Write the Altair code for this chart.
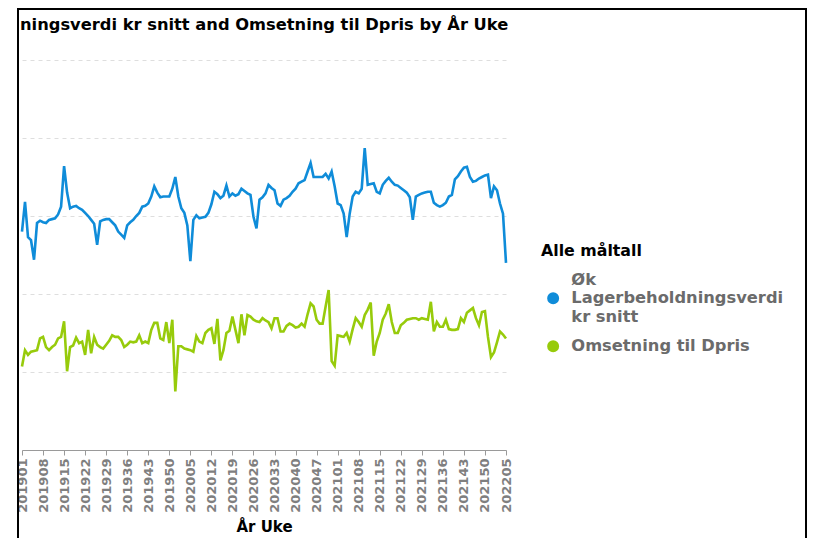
import altair as alt
import pandas as pd

# ---- data -------------------------------------------------------------
years = [2019, 2020, 2021, 2022]
weeks_per_year = [52, 53, 52, 5]
weeks = [f"{y}{w:02d}" for y, n in zip(years, weeks_per_year) for w in range(1, n + 1)]
tick_weeks = weeks[::7]

series_names = ["Øk Lagerbeholdningsverdi kr snitt", "Omsetning til Dpris"]
series_colors = ["#0F8CD9", "#97CB0B"]

lager = [
    28.0, 31.8, 27.3, 26.9, 24.4, 29.1, 29.4, 29.2, 29.1, 29.5,
    29.6, 29.7, 30.2, 31.2, 36.4, 33.0, 31.0, 31.2, 31.3, 31.0,
    30.8, 30.4, 30.0, 29.5, 29.0, 26.3, 29.3, 29.5, 29.6, 29.6,
    29.2, 28.8, 28.0, 27.6, 27.2, 28.8, 29.2, 29.5, 30.0, 30.4,
    31.2, 31.3, 31.6, 32.5, 33.8, 33.0, 32.4, 32.5, 32.5, 32.5,
    33.5, 35.0, 32.5, 31.0, 30.4, 28.8, 24.2, 29.5, 30.1, 29.7,
    29.8, 29.9, 30.4, 31.5, 33.1, 32.8, 32.3, 32.6, 33.9, 32.5,
    32.9, 32.6, 32.8, 33.5, 33.2, 32.9, 32.7, 29.9, 28.4, 32.1,
    32.4, 32.9, 34.0, 33.6, 33.3, 31.6, 31.3, 32.1, 32.3, 32.6,
    33.1, 33.5, 34.2, 34.4, 34.6, 35.7, 36.8, 35.0, 35.0, 35.0,
    35.0, 35.4, 34.8, 35.7, 33.8, 31.6, 31.4, 30.3, 27.3, 30.3,
    32.5, 33.1, 32.9, 33.5, 38.7, 34.0, 34.1, 34.2, 33.1, 32.9,
    34.0, 34.5, 34.9, 34.4, 34.0, 33.9, 33.6, 33.3, 33.0, 32.4,
    29.5, 32.5, 32.7, 32.9, 33.0, 33.1, 33.1, 31.7, 31.4, 31.2,
    31.4, 31.7, 32.5, 32.7, 34.7, 35.1, 35.7, 36.2, 36.3, 35.0,
    34.4, 34.5, 34.8, 35.0, 35.2, 35.3, 32.3, 33.8, 33.3, 31.6,
    30.3, 24.0,
]

omsetning = [
    10.7, 12.8, 12.2, 12.6, 12.7, 12.8, 14.3, 14.5, 13.2, 12.8,
    13.2, 13.5, 14.3, 14.5, 16.5, 10.1, 13.2, 13.4, 14.4, 13.7,
    13.9, 12.2, 15.4, 12.4, 14.5, 13.5, 13.2, 13.0, 13.5, 14.0,
    14.7, 14.5, 14.5, 14.1, 13.2, 13.5, 13.9, 13.8, 13.9, 14.7,
    13.7, 13.9, 13.7, 15.4, 16.3, 16.3, 14.3, 14.1, 16.4, 13.7,
    16.7, 7.5, 13.3, 13.3, 13.0, 12.9, 12.8, 12.6, 14.6, 13.9,
    13.7, 15.0, 15.4, 15.6, 13.6, 16.8, 11.5, 12.8, 15.0, 15.3,
    17.1, 15.4, 13.7, 17.4, 14.7, 17.3, 17.1, 16.7, 16.5, 16.4,
    16.9, 16.6, 16.4, 15.6, 16.9, 16.9, 15.2, 15.2, 15.9, 16.2,
    16.0, 15.7, 15.8, 16.2, 15.8, 17.4, 18.8, 18.4, 16.7, 16.2,
    16.2, 18.4, 20.5, 11.4, 10.8, 14.7, 14.6, 14.5, 15.0, 13.9,
    15.5, 16.9, 16.4, 15.8, 17.3, 18.0, 18.9, 12.1, 13.9, 15.0,
    16.7, 17.5, 18.7, 16.4, 15.0, 15.0, 16.0, 16.3, 16.7, 16.8,
    16.9, 16.9, 16.7, 16.9, 16.8, 16.7, 19.0, 15.2, 16.4, 15.8,
    15.8, 16.7, 15.5, 15.4, 15.4, 15.5, 16.9, 16.4, 17.6, 17.9,
    18.2, 16.9, 16.0, 17.7, 17.8, 14.5, 11.9, 12.5, 13.8, 15.2,
    14.8, 14.3,
]

y_grid_values = [0, 10, 20, 30, 40, 50]

df_lager = pd.DataFrame({"År Uke": weeks, "Alle måltall": series_names[0], "Verdi": lager})
df_oms = pd.DataFrame({"År Uke": weeks, "Alle måltall": series_names[1], "Verdi": omsetning})

# ---- chart -----------------------------------------------------------
FONT = "DejaVu Sans"

x_enc = alt.X(
    "År Uke:O",
    sort=weeks,
    scale=alt.Scale(type="point", padding=0),
    axis=alt.Axis(
        values=tick_weeks,
        labelAngle=-90,
        labelFont=FONT,
        labelFontSize=13,
        labelFontWeight="bold",
        labelColor="#7f7f7f",
        labelPadding=3,
        tickColor="#9a9a9a",
        tickSize=5,
        domainColor="#9a9a9a",
        grid=False,
        title="År Uke",
        titleFont=FONT,
        titleFontSize=15,
        titleFontWeight="bold",
        titleColor="#000000",
        titlePadding=7,
    ),
)

y_enc = alt.Y(
    "Verdi:Q",
    scale=alt.Scale(domain=[0, 50], nice=False),
    axis=alt.Axis(
        values=y_grid_values,
        labels=False,
        ticks=False,
        domain=False,
        title=None,
        gridColor="#dedede",
        gridDash=[4, 4],
        gridWidth=1,
    ),
)

legend_common = dict(
    orient="none",
    legendX=519,
    labelFont=FONT,
    labelFontSize=16.3,
    labelFontWeight="bold",
    labelColor="#6b6b6b",
    labelLimit=400,
    labelOffset=10,
    symbolSize=36,
    symbolStrokeWidth=6,
    symbolOffset=4,
    padding=0,
)

# first series: three-line label, dot sitting on the middle line
label_expr = "['Øk', 'Lagerbeholdningsverdi', 'kr snitt']"
shifted_circle = "M -1 6.1 A 1 1 0 1 0 1 6.1 A 1 1 0 1 0 -1 6.1 Z"

line_lager = alt.Chart(df_lager).mark_line(strokeWidth=2.6).encode(
    x=x_enc,
    y=y_enc,
    color=alt.Color(
        "Alle måltall:N",
        scale=alt.Scale(domain=[series_names[0]], range=[series_colors[0]]),
        legend=alt.Legend(
            legendY=184,
            title="Alle måltall",
            titleFont=FONT,
            titleFontSize=15.8,
            titleFontWeight="bold",
            titleColor="#000000",
            titlePadding=12,
            labelExpr=label_expr,
            symbolType=shifted_circle,
            **legend_common,
        ),
    ),
)

line_oms = alt.Chart(df_oms).mark_line(strokeWidth=2.6).encode(
    x=x_enc,
    y=y_enc,
    color=alt.Color(
        "Alle måltall:N",
        scale=alt.Scale(domain=[series_names[1]], range=[series_colors[1]]),
        legend=alt.Legend(
            legendY=278,
            title=None,
            symbolType="circle",
            **legend_common,
        ),
    ),
)

frame = alt.Chart(alt.Data(values=[{"frame": 1}])).mark_rect(
    filled=False, stroke="#000000", strokeWidth=2
).encode(
    x=alt.value(-4),
    x2=alt.value(784),
    y=alt.value(-51),
    y2=alt.value(600),
)

chart = alt.layer(line_lager, line_oms, frame).resolve_scale(
    color="independent"
).properties(
    width=484,
    height=390,
    background="white",
    autosize=alt.AutoSizeParams(type="none"),
    padding={"left": 14, "top": 52, "right": 302, "bottom": 88},
    title=alt.TitleParams(
        "ningsverdi kr snitt and Omsetning til Dpris by År Uke",
        anchor="start",
        frame="group",
        font=FONT,
        fontSize=16.3,
        fontWeight="bold",
        color="#000000",
        baseline="alphabetic",
        offset=-38,
        dx=-2,
    ),
).configure_view(strokeWidth=0)

chart.save("out.html", embed_options={"renderer": "svg", "actions": False})
